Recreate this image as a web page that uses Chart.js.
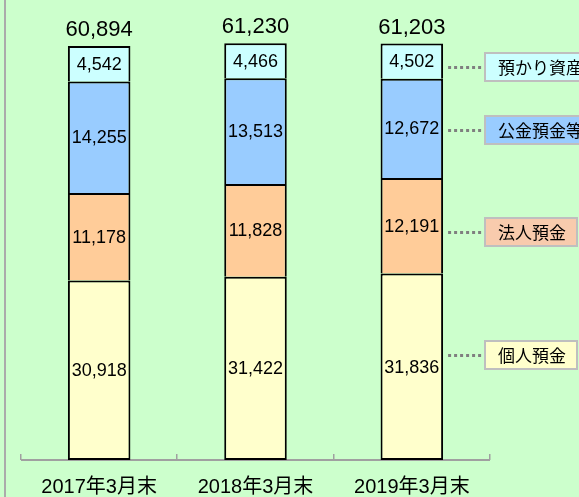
<!DOCTYPE html>
<html><head><meta charset="utf-8">
<script src="https://cdn.jsdelivr.net/npm/chart.js@4"></script>
<style>html,body{margin:0;padding:0;background:#CCFFCC;overflow:hidden}#wrap{position:relative;width:579px;height:497px}</style>
</head><body><div id="wrap"><canvas id="c" width="579" height="497"></canvas></div>
<script>
// ---- data ----
const categories = ['2017年3月末', '2018年3月末', '2019年3月末'];
const seriesNames = ['個人預金', '法人預金', '公金預金等', '預かり資産'];
const personalDeposits = [30918, 31422, 31836];
const corporateDeposits = [11178, 11828, 12191];
const publicDeposits = [14255, 13513, 12672];
const custodyAssets = [4542, 4466, 4502];
const totals = [60894, 61230, 61203];

const seriesValues = [personalDeposits, corporateDeposits, publicDeposits, custodyAssets];
const barColors = ['#FFFFCC', '#FFCC99', '#99CCFF', '#CCFFFF'];
const boxColors = ['#FFFFCC', '#F8CBAD', '#99CCFF', '#CCFFFF'];
const labelYOffset = [-12, 6, 2, 6];

const fmt = v => v.toLocaleString('en-US');
const NUM_FONT = '"Liberation Sans", Arial, sans-serif';
const JP_FONT = '"Liberation Sans", "Noto Sans CJK JP", sans-serif';

const datasets = seriesValues.map((vals, i) => ({
  label: seriesNames[i],
  data: vals,
  backgroundColor: barColors[i],
  borderColor: '#000000',
  borderWidth: 2,
  borderSkipped: i === 0 ? false : 'start',
  base: i === 0 ? 8000 : undefined,
  barPercentage: 0.4,
  categoryPercentage: 1.0,
  inflateAmount: 0
}));

const decor = {
  id: 'decor',
  beforeDatasetsDraw(chart) {
    const ctx = chart.ctx, xs = chart.scales.x, area = chart.chartArea;
    const step = (area.right - area.left) / categories.length;
    ctx.save();
    ctx.fillStyle = '#A0A0A0';
    ctx.fillRect(area.left, area.bottom - 1, area.right - area.left, 2);
    for (let i = 0; i <= categories.length; i++) {
      const x = Math.round(area.left + i * step);
      ctx.fillRect(x - 1, area.bottom - 6, 1.5, 6);
    }
    // left frame line
    ctx.fillStyle = '#ABABAB';
    ctx.fillRect(4, 0, 2, chart.height);
    ctx.restore();
  },
  afterDatasetsDraw(chart) {
    const ctx = chart.ctx, area = chart.chartArea;
    ctx.save();
    ctx.fillStyle = '#000';
    ctx.textAlign = 'center';
    ctx.textBaseline = 'middle';
    // value labels
    ctx.font = '18px ' + NUM_FONT;
    chart.data.datasets.forEach((ds, di) => {
      const meta = chart.getDatasetMeta(di);
      meta.data.forEach((el, j) => {
        const cy = (el.y + el.base) / 2;
        ctx.fillText(fmt(ds.data[j]), el.x, cy + 1);
      });
    });
    // totals
    ctx.font = '22px ' + NUM_FONT;
    const topMeta = chart.getDatasetMeta(chart.data.datasets.length - 1);
    topMeta.data.forEach((el, j) => {
      ctx.fillText(fmt(totals[j]), el.x, el.y - 16);
    });
    // side labels for last bar
    const last = categories.length - 1;
    chart.data.datasets.forEach((ds, di) => {
      const el = chart.getDatasetMeta(di).data[last];
      const y = Math.round((el.y + el.base) / 2 + labelYOffset[di]);
      const x0 = el.x + el.width / 2 + 5;
      const x1 = area.right - 8;
      ctx.strokeStyle = '#7F7F7F';
      ctx.lineWidth = 3;
      ctx.setLineDash([3, 3]);
      ctx.beginPath();
      ctx.moveTo(x0, y + 0.5);
      ctx.lineTo(x1, y + 0.5);
      ctx.stroke();
      ctx.setLineDash([]);
      ctx.font = '17px "Noto Sans CJK JP", sans-serif';
      const tw = ctx.measureText(seriesNames[di]).width;
      const bx = area.right - 5, bw = tw + 24, bh = 28;
      ctx.fillStyle = boxColors[di];
      ctx.fillRect(bx, y - bh / 2, bw, bh);
      ctx.strokeStyle = '#BFBFBF';
      ctx.lineWidth = 2;
      ctx.strokeRect(bx, y - bh / 2, bw, bh);
      ctx.fillStyle = '#000';
      ctx.textAlign = 'left';
      ctx.fillText(seriesNames[di], bx + 13, y + 1);
      ctx.textAlign = 'center';
    });
    ctx.restore();
  }
};

new Chart(document.getElementById('c'), {
  type: 'bar',
  data: { labels: categories, datasets },
  options: {
    responsive: false,
    animation: false,
    layout: { padding: { left: 21, right: 89, top: 6, bottom: 0 } },
    plugins: { legend: { display: false }, tooltip: { enabled: false } },
    scales: {
      x: {
        stacked: true,
        offset: true,
        grid: { display: false, drawTicks: true, tickLength: 17 },
        border: { display: false },
        ticks: { color: '#000', padding: 0, font: { size: 20, family: JP_FONT, lineHeight: 1 } }
      },
      y: {
        stacked: true,
        display: false,
        min: 8000,
        max: 66000
      }
    }
  },
  plugins: [decor]
});
</script>
</body></html>
